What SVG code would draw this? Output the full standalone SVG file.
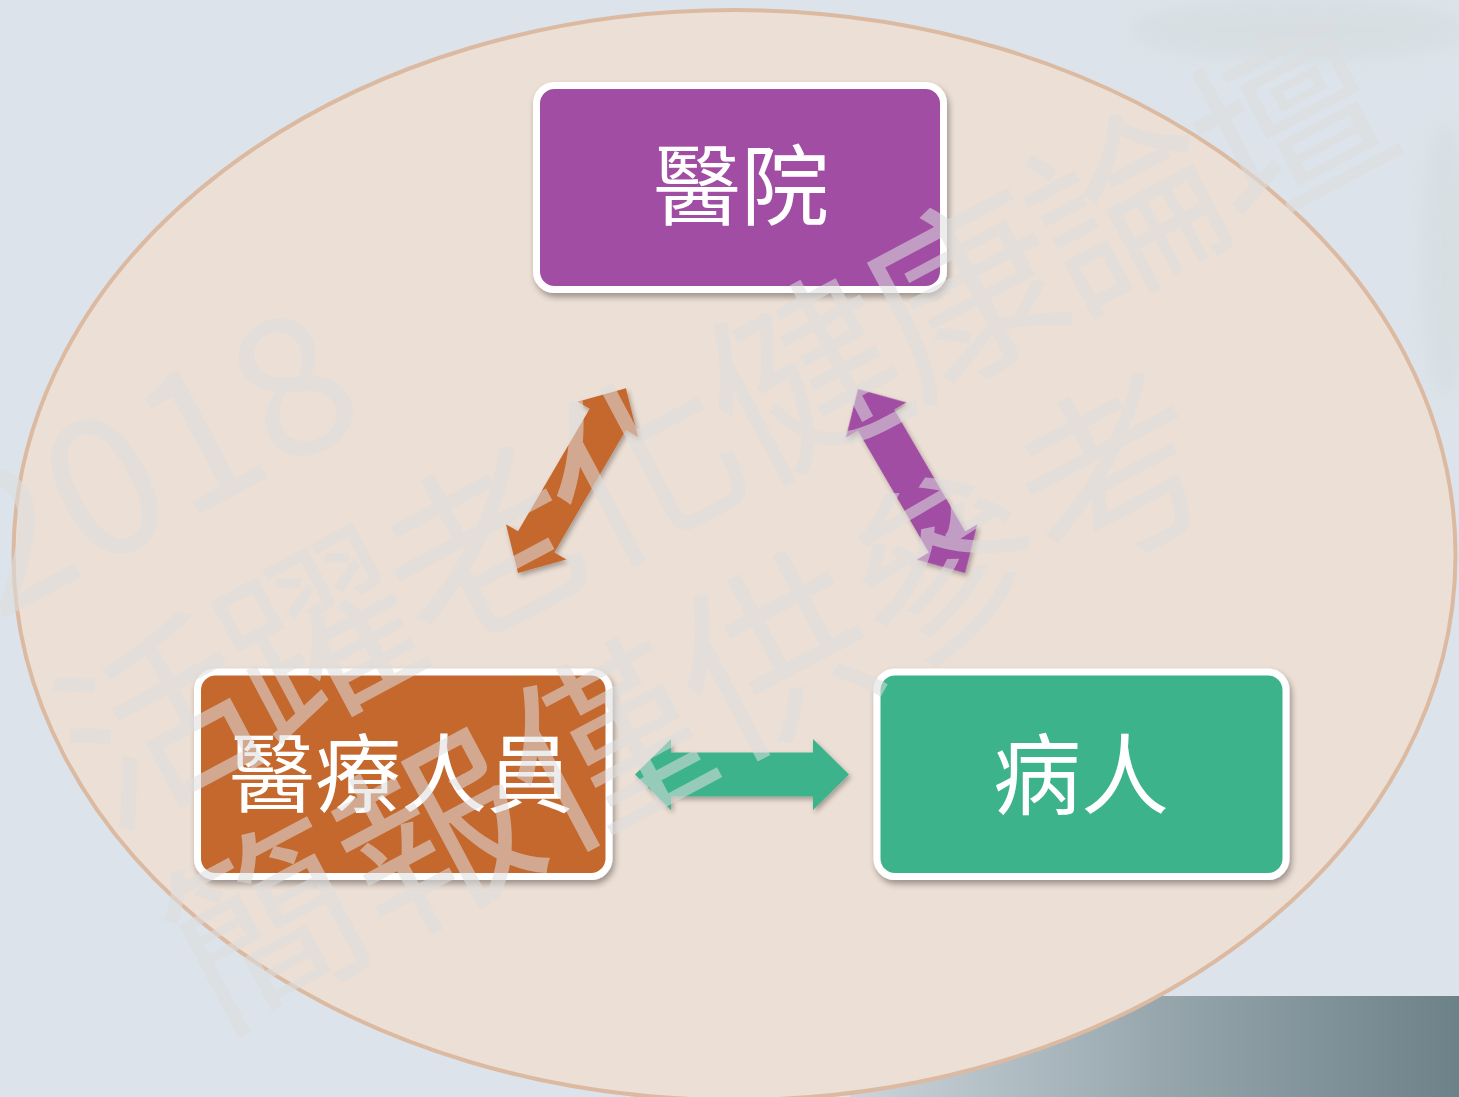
<svg xmlns="http://www.w3.org/2000/svg" width="1459" height="1097" viewBox="0 0 1459 1097">
  <style>
    .lbl { font-family: "Noto Sans CJK TC", "Noto Sans CJK SC", sans-serif; fill: #ffffff; text-anchor: middle; dominant-baseline: central; }
    .box { stroke: #ffffff; stroke-width: 7; }
    .wm { font-family: "Noto Sans CJK TC", "Noto Sans CJK SC", sans-serif; font-size: 192px; fill: #dedede; fill-opacity: 0.56; }
  </style>
  <defs>
    <filter id="shadow" x="-10%" y="-10%" width="125%" height="130%">
      <feDropShadow dx="2" dy="4" stdDeviation="3" flood-color="#000000" flood-opacity="0.35"/>
    </filter>
    <filter id="ashadow" x="-20%" y="-20%" width="150%" height="150%">
      <feDropShadow dx="2" dy="3" stdDeviation="2.5" flood-color="#000000" flood-opacity="0.3"/>
    </filter>
    <filter id="blur" x="-50%" y="-50%" width="200%" height="200%">
      <feGaussianBlur stdDeviation="10"/>
    </filter>
    <linearGradient id="band" x1="850" y1="0" x2="1459" y2="0" gradientUnits="userSpaceOnUse">
      <stop offset="0" stop-color="#cbd5db"/>
      <stop offset="0.5" stop-color="#98a7ae"/>
      <stop offset="1" stop-color="#6d8189"/>
    </linearGradient>
  </defs>

  <!-- background -->
  <rect x="0" y="0" width="1459" height="1097" fill="#dce3ea"/>
  <g opacity="0.22" filter="url(#blur)">
    <ellipse cx="1300" cy="30" rx="170" ry="30" fill="#c6d0c8"/>
    <ellipse cx="1445" cy="260" rx="22" ry="140" fill="#c6d0c8"/>
  </g>
  <rect x="850" y="996" width="609" height="101" fill="url(#band)"/>

  <!-- big ellipse -->
  <ellipse cx="734.5" cy="555" rx="721" ry="545" fill="#ecdfd5" stroke="#dbbaa1" stroke-width="4"/>

  <!-- connectors -->
  <g id="connectors" filter="url(#ashadow)">
    <polygon id="arrow-staff-hospital" fill="#c5672e" transform="translate(518,573) rotate(-59.7)"
      points="0,0 36,-35 36,-21 178,-21 178,-35 214,0 178,35 178,21 36,21 36,35"/>
    <polygon id="arrow-hospital-patient" fill="#a04da3" transform="translate(858,389) rotate(59.8)"
      points="0,0 36,-35 36,-21 177,-21 177,-35 213,0 177,35 177,21 36,21 36,35"/>
    <polygon id="arrow-staff-patient" fill="#3db38c" transform="translate(635,774.5)"
      points="0,0 36,-35.5 36,-22 178,-22 178,-35.5 214,0 178,35.5 178,22 36,22 36,35.5"/>
  </g>

  <!-- nodes -->
  <g id="node-hospital">
    <rect class="box" x="536.5" y="85.5" width="407" height="204" rx="18" fill="#a04da3" filter="url(#shadow)"/>
    <text class="lbl" x="741" y="179" font-size="88">醫院</text>
  </g>
  <g id="node-staff">
    <rect class="box" x="197.5" y="672" width="411.5" height="204.5" rx="18" fill="#c5672e" filter="url(#shadow)"/>
    <text class="lbl" x="401" y="768" font-size="86">醫療人員</text>
  </g>
  <g id="node-patient">
    <rect class="box" x="877" y="672" width="409" height="204.5" rx="18" fill="#3db38c" filter="url(#shadow)"/>
    <text class="lbl" x="1081" y="768" font-size="88">病人</text>
  </g>

  <!-- watermark -->
  <g id="watermark" transform="translate(-4,622) rotate(-28)">
    <text class="wm" x="0" y="0">2018</text>
    <text class="wm" x="0" y="236" letter-spacing="-9">活躍老化健康論壇</text>
    <text class="wm" x="0" y="466">簡報僅供參考</text>
  </g>
</svg>
